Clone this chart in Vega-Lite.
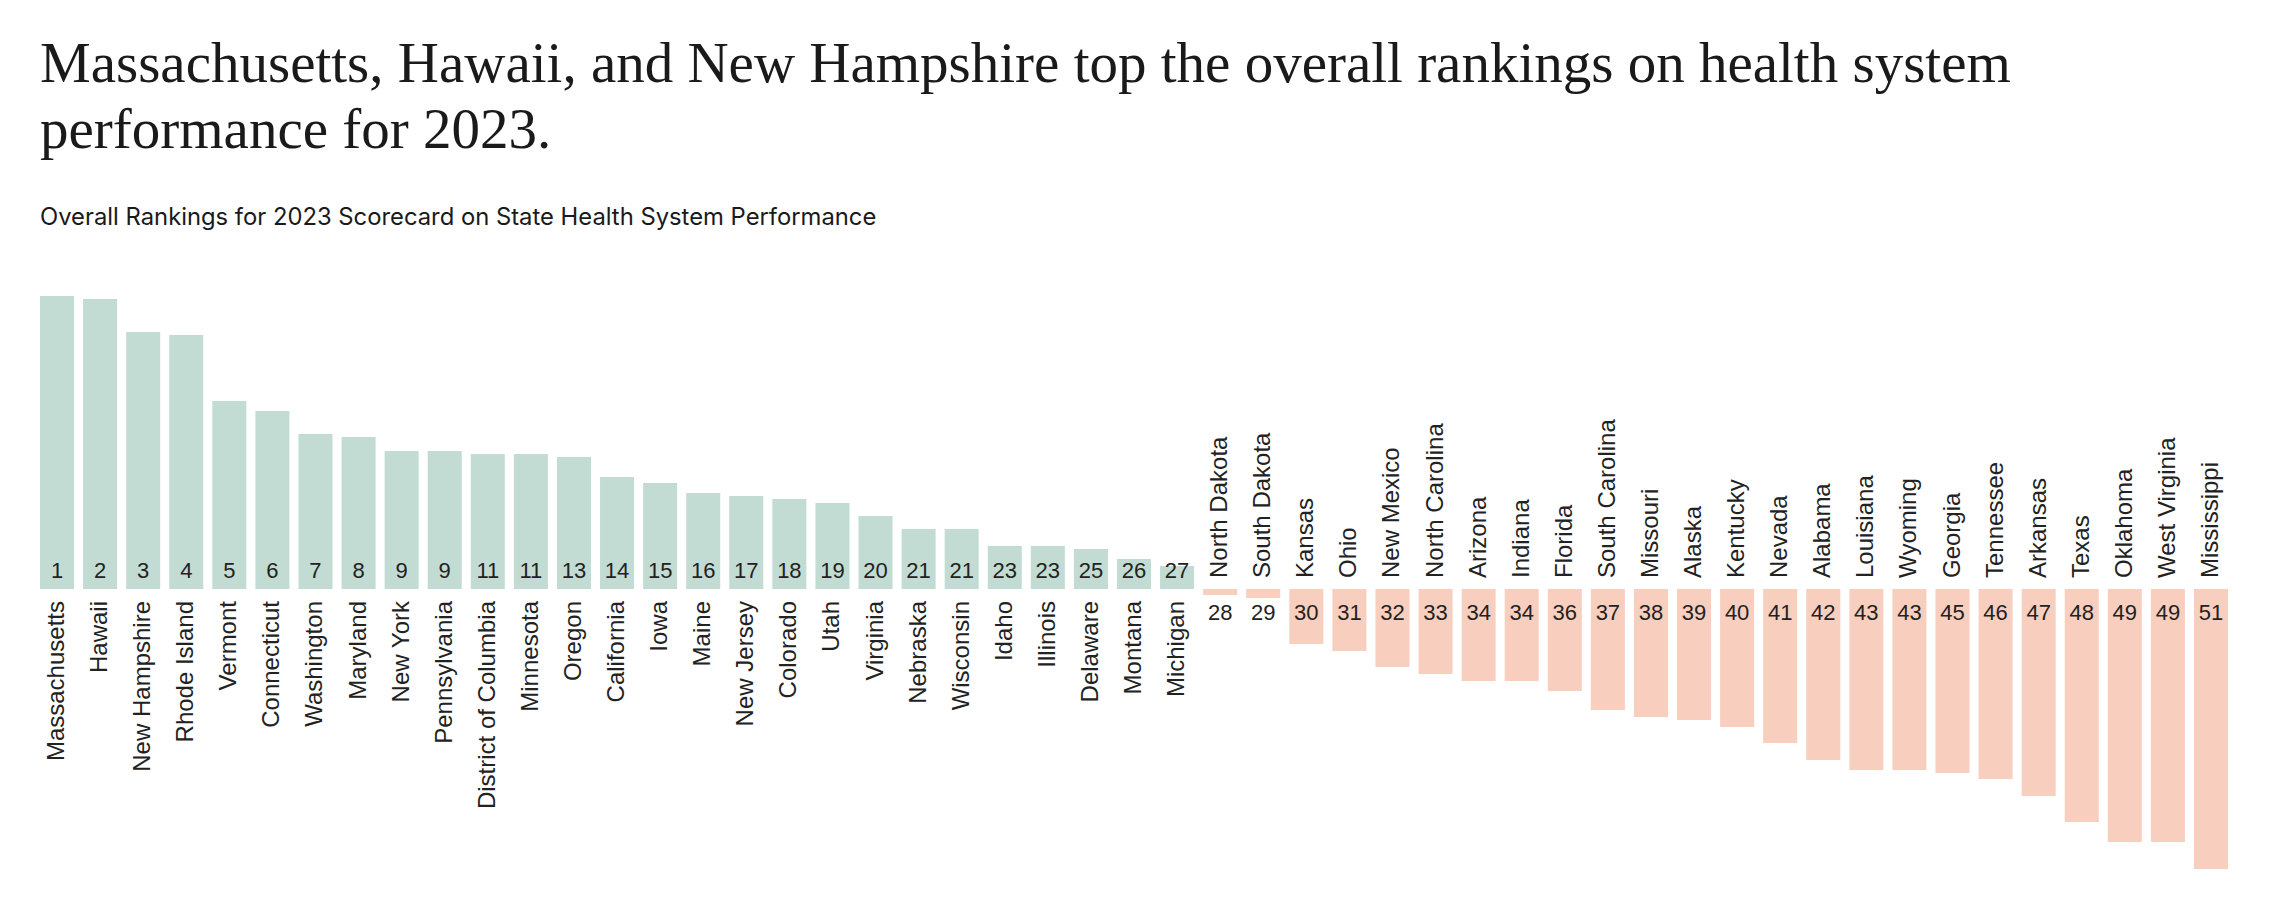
{
  "$schema": "https://vega.github.io/schema/vega-lite/v6.json",
  "autosize": {"type": "none"},
  "padding": {"left": 40, "top": 289, "right": 52, "bottom": 0},
  "width": 2188,
  "height": 627,
  "background": "#ffffff",
  "config": {"view": {"stroke": null}},
  "title": {
    "text": ["Massachusetts, Hawaii, and New Hampshire top the overall rankings on health system", "performance for 2023."],
    "subtitle": "Overall Rankings for 2023 Scorecard on State Health System Performance",
    "anchor": "start",
    "frame": "group",
    "font": "Liberation Serif",
    "fontSize": 57,
    "fontWeight": "normal",
    "color": "#1a1a1a",
    "lineHeight": 66,
    "subtitleFont": "Inter",
    "subtitleFontSize": 23.8,
    "subtitleColor": "#1a1a1a",
    "subtitlePadding": 46,
    "offset": 58
  },
  "data": {
    "values": [
      {"state": "Massachusetts", "rank": 1, "score": 2.93},
      {"state": "Hawaii", "rank": 2, "score": 2.90},
      {"state": "New Hampshire", "rank": 3, "score": 2.57},
      {"state": "Rhode Island", "rank": 4, "score": 2.54},
      {"state": "Vermont", "rank": 5, "score": 1.88},
      {"state": "Connecticut", "rank": 6, "score": 1.78},
      {"state": "Washington", "rank": 7, "score": 1.55},
      {"state": "Maryland", "rank": 8, "score": 1.52},
      {"state": "New York", "rank": 9, "score": 1.38},
      {"state": "Pennsylvania", "rank": 9, "score": 1.38},
      {"state": "District of Columbia", "rank": 11, "score": 1.35},
      {"state": "Minnesota", "rank": 11, "score": 1.35},
      {"state": "Oregon", "rank": 13, "score": 1.32},
      {"state": "California", "rank": 14, "score": 1.12},
      {"state": "Iowa", "rank": 15, "score": 1.06},
      {"state": "Maine", "rank": 16, "score": 0.96},
      {"state": "New Jersey", "rank": 17, "score": 0.93},
      {"state": "Colorado", "rank": 18, "score": 0.90},
      {"state": "Utah", "rank": 19, "score": 0.86},
      {"state": "Virginia", "rank": 20, "score": 0.73},
      {"state": "Nebraska", "rank": 21, "score": 0.60},
      {"state": "Wisconsin", "rank": 21, "score": 0.60},
      {"state": "Idaho", "rank": 23, "score": 0.43},
      {"state": "Illinois", "rank": 23, "score": 0.43},
      {"state": "Delaware", "rank": 25, "score": 0.40},
      {"state": "Montana", "rank": 26, "score": 0.30},
      {"state": "Michigan", "rank": 27, "score": 0.23},
      {"state": "North Dakota", "rank": 28, "score": -0.06},
      {"state": "South Dakota", "rank": 29, "score": -0.09},
      {"state": "Kansas", "rank": 30, "score": -0.55},
      {"state": "Ohio", "rank": 31, "score": -0.62},
      {"state": "New Mexico", "rank": 32, "score": -0.78},
      {"state": "North Carolina", "rank": 33, "score": -0.85},
      {"state": "Arizona", "rank": 34, "score": -0.92},
      {"state": "Indiana", "rank": 34, "score": -0.92},
      {"state": "Florida", "rank": 36, "score": -1.02},
      {"state": "South Carolina", "rank": 37, "score": -1.21},
      {"state": "Missouri", "rank": 38, "score": -1.28},
      {"state": "Alaska", "rank": 39, "score": -1.31},
      {"state": "Kentucky", "rank": 40, "score": -1.38},
      {"state": "Nevada", "rank": 41, "score": -1.54},
      {"state": "Alabama", "rank": 42, "score": -1.71},
      {"state": "Louisiana", "rank": 43, "score": -1.81},
      {"state": "Wyoming", "rank": 43, "score": -1.81},
      {"state": "Georgia", "rank": 45, "score": -1.84},
      {"state": "Tennessee", "rank": 46, "score": -1.90},
      {"state": "Arkansas", "rank": 47, "score": -2.07},
      {"state": "Texas", "rank": 48, "score": -2.33},
      {"state": "Oklahoma", "rank": 49, "score": -2.53},
      {"state": "West Virginia", "rank": 49, "score": -2.53},
      {"state": "Mississippi", "rank": 51, "score": -2.80}
    ]
  },
  "encoding": {
    "x": {
      "field": "state",
      "type": "nominal",
      "sort": null,
      "axis": null,
      "scale": {"paddingInner": 0.21, "paddingOuter": 0}
    }
  },
  "layer": [
    {
      "mark": {"type": "bar"},
      "encoding": {
        "y": {"field": "score", "type": "quantitative", "axis": null, "scale": {"domain": [-3.27, 3.0], "nice": false}},
        "y2": {"datum": 0},
        "color": {
          "condition": {"test": "datum.score > 0", "value": "#c2dcd3"},
          "value": "#f8cfbf"
        }
      }
    },
    {
      "mark": {"type": "rule", "color": "#e4e4e4", "strokeWidth": 2},
      "encoding": {"y": {"datum": 0}}
    },
    {
      "transform": [{"filter": "datum.score > 0"}],
      "mark": {"type": "text", "font": "Liberation Sans", "fontSize": 22, "color": "#222222", "baseline": "alphabetic", "align": "center", "dy": -11},
      "encoding": {"y": {"datum": 0}, "text": {"field": "rank", "type": "quantitative"}}
    },
    {
      "transform": [{"filter": "datum.score < 0"}],
      "mark": {"type": "text", "font": "Liberation Sans", "fontSize": 22, "color": "#222222", "baseline": "alphabetic", "align": "center", "dy": 31},
      "encoding": {"y": {"datum": 0}, "text": {"field": "rank", "type": "quantitative"}}
    },
    {
      "transform": [{"filter": "datum.score > 0"}],
      "mark": {"type": "text", "font": "Liberation Sans", "fontSize": 24, "color": "#222222", "baseline": "middle", "align": "right", "angle": 270, "dx": -12},
      "encoding": {"y": {"datum": 0}, "text": {"field": "state", "type": "nominal"}}
    },
    {
      "transform": [{"filter": "datum.score < 0"}],
      "mark": {"type": "text", "font": "Liberation Sans", "fontSize": 24, "color": "#222222", "baseline": "middle", "align": "left", "angle": 270, "dx": 11},
      "encoding": {"y": {"datum": 0}, "text": {"field": "state", "type": "nominal"}}
    }
  ]
}
